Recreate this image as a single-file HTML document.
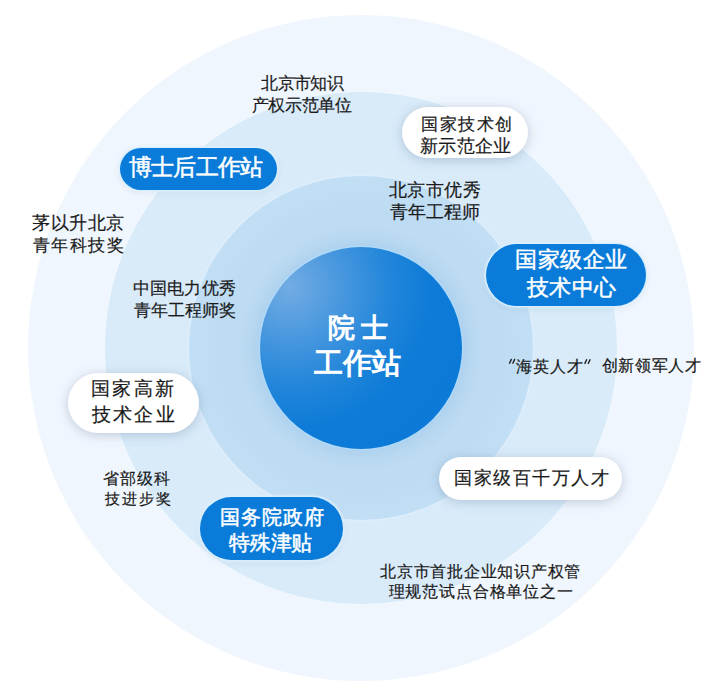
<!DOCTYPE html>
<html><head><meta charset="utf-8">
<style>
html,body{margin:0;padding:0;width:717px;height:700px;overflow:hidden;background:#fff;}
body{position:relative;font-family:"Liberation Sans",sans-serif;}
.c{position:absolute;border-radius:50%;}
#r1{left:28px;top:15px;width:666px;height:666px;background:#f0f6fd;box-shadow:0 0 2px 1px rgba(255,255,255,0.9);}
#r2{left:105px;top:92px;width:512px;height:512px;background:#d9ebf9;box-shadow:0 0 2px 1px rgba(240,248,255,0.9);}
#r3{left:189px;top:176px;width:344px;height:344px;background:radial-gradient(circle,#bddbf2 58%,#c3e0f5 75%,#c8e3f6 100%);box-shadow:0 0 2px 1px rgba(225,240,255,0.9);}
#r4{left:260px;top:247px;width:202px;height:202px;background:radial-gradient(circle at 15% 20%,#72ace3 0%,#4c99df 20%,#2286da 42%,#0d7bd7 60%,#0a79d5 100%);box-shadow:0 0 0 1.5px rgba(175,218,250,0.95),0 0 18px 4px rgba(60,140,210,0.18);}
.p{position:absolute;border-radius:40px;}
.b{background:#0a7bd8;box-shadow:0 0 0 1.3px rgba(215,238,255,0.95),0 0 3px 2px rgba(235,246,255,0.6),0 2px 7px rgba(20,80,150,0.12);}
.w{background:#fff;box-shadow:0 2px 11px rgba(95,120,155,0.34);}
.t{position:absolute;white-space:nowrap;color:#1a1a1a;}
.wt{color:#fff;}
</style></head><body>
<div class="c" id="r1"></div>
<div class="c" id="r2"></div>
<div class="c" id="r3"></div>
<div class="c" id="r4"></div>
<div class="p b" style="left:120.3px;top:147.7px;width:156.4px;height:42.0px;border-radius:21.0px"></div>
<div class="p w" style="left:402.3px;top:106.8px;width:125.7px;height:51.7px;border-radius:25.9px"></div>
<div class="p b" style="left:486.3px;top:243.6px;width:160.0px;height:62.8px;border-radius:31.4px"></div>
<div class="p w" style="left:68.0px;top:372.5px;width:130.6px;height:60.0px;border-radius:30.0px"></div>
<div class="p b" style="left:199.7px;top:497.4px;width:142.9px;height:62.9px;border-radius:31.4px"></div>
<div class="p w" style="left:438.8px;top:456.9px;width:183.4px;height:43.3px;border-radius:21.7px"></div>
<div class="t" id="zhishi1" style="left:261.42px;top:73.20px;font-size:17px;line-height:21px;letter-spacing:-0.665px;-webkit-text-stroke:0.2px #1a1a1a;">北京市知识</div>
<div class="t" id="zhishi2" style="left:251.80px;top:94.62px;font-size:17px;line-height:21px;letter-spacing:-0.350px;-webkit-text-stroke:0.2px #1a1a1a;">产权示范单位</div>
<div class="t" id="maoyi1" style="left:32.18px;top:212.84px;font-size:17.7px;line-height:21.7px;letter-spacing:0.455px;-webkit-text-stroke:0.2px #1a1a1a;">茅以升北京</div>
<div class="t" id="maoyi2" style="left:32.58px;top:234.76px;font-size:17.11px;line-height:21.11px;letter-spacing:1.593px;-webkit-text-stroke:0.2px #1a1a1a;">青年科技奖</div>
<div class="t" id="youxiu1" style="left:388.64px;top:178.80px;font-size:18px;line-height:22px;letter-spacing:0.507px;-webkit-text-stroke:0.2px #1a1a1a;">北京市优秀</div>
<div class="t" id="youxiu2" style="left:389.84px;top:200.56px;font-size:18px;line-height:22px;letter-spacing:0.018px;-webkit-text-stroke:0.2px #1a1a1a;">青年工程师</div>
<div class="t" id="dianli1" style="left:132.64px;top:278.18px;font-size:17px;line-height:21px;letter-spacing:0.280px;-webkit-text-stroke:0.2px #1a1a1a;">中国电力优秀</div>
<div class="t" id="dianli2" style="left:133.52px;top:300.08px;font-size:17px;line-height:21px;-webkit-text-stroke:0.2px #1a1a1a;">青年工程师奖</div>
<div class="t" id="hy" style="left:516.32px;top:356.08px;font-size:16.15px;line-height:20.15px;letter-spacing:0.933px;-webkit-text-stroke:0.2px #1a1a1a;">海英人才</div>
<div class="t" id="cx" style="left:601.84px;top:356.12px;font-size:15.7px;line-height:19.7px;letter-spacing:0.560px;-webkit-text-stroke:0.2px #1a1a1a;">创新领军人才</div>
<div class="t" id="shengbu1" style="left:103.34px;top:468.66px;font-size:15.73px;line-height:19.73px;letter-spacing:0.933px;-webkit-text-stroke:0.2px #1a1a1a;">省部级科</div>
<div class="t" id="shengbu2" style="left:104.94px;top:488.68px;font-size:15.14px;line-height:19.14px;letter-spacing:1.937px;-webkit-text-stroke:0.2px #1a1a1a;">技进步奖</div>
<div class="t" id="shoupi1" style="left:380.04px;top:562.30px;font-size:15.92px;line-height:19.92px;letter-spacing:0.764px;-webkit-text-stroke:0.2px #1a1a1a;">北京市首批企业知识产权管</div>
<div class="t" id="shoupi2" style="left:388.54px;top:581.20px;font-size:16.06px;line-height:20.06px;letter-spacing:0.840px;-webkit-text-stroke:0.2px #1a1a1a;">理规范试点合格单位之一</div>
<div class="t wt" id="boshi" style="left:129.22px;top:155.26px;font-size:22.5px;line-height:26.5px;letter-spacing:-0.882px;-webkit-text-stroke:0.5px #fff;">博士后工作站</div>
<div class="t" id="jishu1" style="left:421.14px;top:113.54px;font-size:17.45px;line-height:21.45px;letter-spacing:1.575px;-webkit-text-stroke:0.2px #1a1a1a;">国家技术创</div>
<div class="t" id="jishu2" style="left:420.18px;top:135.20px;font-size:18px;line-height:22px;letter-spacing:0.192px;-webkit-text-stroke:0.2px #1a1a1a;">新示范企业</div>
<div class="t wt" id="qiye1" style="left:515.40px;top:247.18px;font-size:22px;line-height:26px;letter-spacing:0.402px;-webkit-text-stroke:0.5px #fff;">国家级企业</div>
<div class="t wt" id="qiye2" style="left:526.66px;top:275.34px;font-size:22px;line-height:26px;letter-spacing:0.490px;-webkit-text-stroke:0.5px #fff;">技术中心</div>
<div class="t" id="gaoxin1" style="left:91.04px;top:376.78px;font-size:19.3px;line-height:23.3px;letter-spacing:2.287px;-webkit-text-stroke:0.2px #1a1a1a;">国家高新</div>
<div class="t" id="gaoxin2" style="left:91.50px;top:402.64px;font-size:19.17px;line-height:23.17px;letter-spacing:2.427px;-webkit-text-stroke:0.2px #1a1a1a;">技术企业</div>
<div class="t wt" id="guowu1" style="left:219.74px;top:504.74px;font-size:20.25px;line-height:24.25px;letter-spacing:1.050px;-webkit-text-stroke:0.5px #fff;">国务院政府</div>
<div class="t wt" id="guowu2" style="left:229.08px;top:530.48px;font-size:21px;line-height:25px;letter-spacing:-0.257px;-webkit-text-stroke:0.5px #fff;">特殊津贴</div>
<div class="t" id="baiqian" style="left:454.06px;top:466.66px;font-size:18.25px;line-height:22.25px;letter-spacing:1.500px;-webkit-text-stroke:0.2px #1a1a1a;">国家级百千万人才</div>
<div class="t wt" id="ys1" style="left:328.38px;top:311.96px;font-size:27.1px;line-height:31.1px;letter-spacing:5.880px;-webkit-text-stroke:1.1px #fff;">院士</div>
<div class="t wt" id="ys2" style="left:314.20px;top:347.48px;font-size:29px;line-height:33px;letter-spacing:0.035px;-webkit-text-stroke:1.1px #fff;">工作站</div>
<svg style="position:absolute;left:0;top:0" width="717" height="700"><g stroke="#222" stroke-width="1.4" stroke-linecap="round"><line x1="511.3" y1="359.4" x2="509.6" y2="363.2"/><line x1="514.6" y1="359.4" x2="512.9" y2="363.2"/><line x1="586.6" y1="359.7" x2="584.9" y2="363.4"/><line x1="590.0" y1="359.7" x2="588.3" y2="363.4"/></g></svg>
</body></html>
